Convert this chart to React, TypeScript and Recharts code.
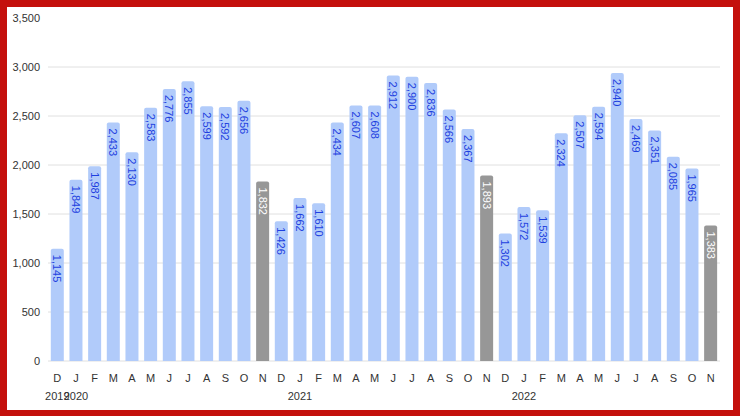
import { Bar, BarChart, CartesianGrid, Cell, LabelList, XAxis, YAxis } from 'recharts';

// Dec 2019 .. Nov 2022, one bar per month
const MONTHS = [
  'D', 'J', 'F', 'M', 'A', 'M', 'J', 'J', 'A', 'S', 'O', 'N',
  'D', 'J', 'F', 'M', 'A', 'M', 'J', 'J', 'A', 'S', 'O', 'N',
  'D', 'J', 'F', 'M', 'A', 'M', 'J', 'J', 'A', 'S', 'O', 'N',
];

const YEARS = [
  '2019', '2020', '', '', '', '', '', '', '', '', '', '',
  '', '2021', '', '', '', '', '', '', '', '', '', '',
  '', '2022', '', '', '', '', '', '', '', '', '', '',
];

const VALUES = [
  1145, 1849, 1987, 2433, 2130, 2583, 2776, 2855, 2599, 2592, 2656, 1832,
  1426, 1662, 1610, 2434, 2607, 2608, 2912, 2900, 2836, 2566, 2367, 1893,
  1302, 1572, 1539, 2324, 2507, 2594, 2940, 2469, 2351, 2085, 1965, 1383,
];

const Y_TICKS = [0, 500, 1000, 1500, 2000, 2500, 3000, 3500];
const GRID_VALUES = [0, 500, 1000, 1500, 2000, 2500, 3000];

const BLUE = '#b1cbfa';
const GRAY = '#979797';
const FONT = '"Liberation Sans", Arial, sans-serif';

const data = VALUES.map((value, i) => ({
  month: MONTHS[i],
  year: YEARS[i],
  value,
  isNov: MONTHS[i] === 'N',
}));

const fmt = (v: number) => v.toLocaleString('en-US');

const BarLabel = (props: any) => {
  const { x, y, width, value, index } = props;
  const cx = Number(x) + Number(width) / 2;
  const top = Number(y) + 6;
  const white = data[index]?.isNov;
  return (
    <text
      x={cx}
      y={top}
      transform={`rotate(90 ${cx} ${top})`}
      textAnchor="start"
      dominantBaseline="central"
      fontSize={11}
      fontFamily={FONT}
      fill={white ? '#ffffff' : '#1d40e0'}
    >
      {fmt(Number(value))}
    </text>
  );
};

const App = () => {
  return (
    <div
      style={{
        position: 'fixed',
        left: 0,
        top: 0,
        width: 740,
        height: 416,
        background: '#c4100c',
      }}
    >
      <div
        style={{
          position: 'absolute',
          left: 7,
          top: 7,
          width: 726,
          height: 403,
          background: '#ffffff',
        }}
      />
      <div style={{ position: 'absolute', left: 0, top: 0 }}>
        <BarChart
          width={740}
          height={416}
          data={data}
          margin={{ top: 18, right: 20, bottom: 15, left: 0 }}
          barCategoryGap="15%"
        >
          <CartesianGrid
            stroke="#e0e0e0"
            vertical={false}
            horizontalValues={GRID_VALUES}
          />
          <XAxis
            dataKey="month"
            interval={0}
            axisLine={false}
            tickLine={false}
            tickSize={0}
            tickMargin={13}
            height={20}
            tick={{ fontSize: 11, fill: '#333', fontFamily: FONT }}
          />
          <XAxis
            xAxisId="year"
            dataKey="year"
            interval={0}
            axisLine={false}
            tickLine={false}
            tickSize={0}
            tickMargin={11}
            height={20}
            tick={{ fontSize: 11, fill: '#333', fontFamily: FONT }}
          />
          <YAxis
            width={48}
            domain={[0, 3500]}
            ticks={Y_TICKS}
            axisLine={false}
            tickLine={false}
            tickSize={0}
            tickMargin={8}
            tickFormatter={fmt}
            tick={{ fontSize: 11, fill: '#333', fontFamily: FONT }}
          />
          <Bar dataKey="value" radius={[2, 2, 0, 0]} isAnimationActive={false}>
            {data.map((d, i) => (
              <Cell key={i} fill={d.isNov ? GRAY : BLUE} />
            ))}
            <LabelList dataKey="value" content={BarLabel} />
          </Bar>
        </BarChart>
      </div>
    </div>
  );
};

export default App;
